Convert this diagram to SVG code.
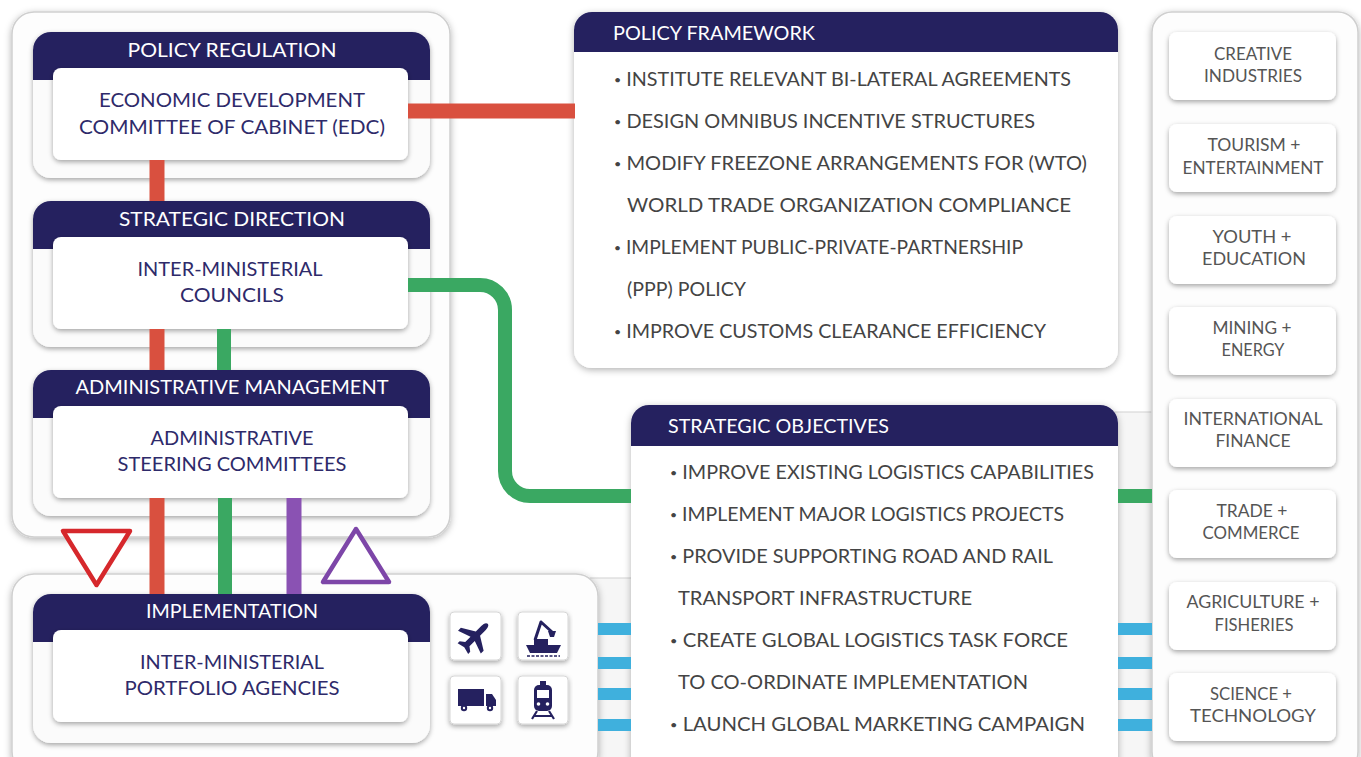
<svg xmlns="http://www.w3.org/2000/svg" width="1361" height="757" viewBox="0 0 1361 757">
<defs>
<filter id="sh" x="-10%" y="-10%" width="120%" height="125%"><feDropShadow dx="0" dy="2" stdDeviation="3.5" flood-color="#000" flood-opacity="0.3"/></filter>
<filter id="sh2" x="-10%" y="-15%" width="120%" height="140%"><feDropShadow dx="0" dy="2" stdDeviation="2.5" flood-color="#000" flood-opacity="0.35"/></filter>
</defs>
<style>
.panel{fill:#fdfdfd;stroke:#cfcfcf;stroke-width:1.5;filter:url(#sh)}
.card{fill:#fbfbfb;filter:url(#sh2)}
.hdr{fill:#25215f}
.inner{fill:#fff;filter:url(#sh2)}
.tube{fill:#f6f6f6;stroke:#d2d2d2;stroke-width:1}
.ht{font-family:Lato,"Liberation Sans",sans-serif;font-size:19px;fill:#fff;text-anchor:middle}
.hl{font-family:Lato,"Liberation Sans",sans-serif;font-size:19px;fill:#fff}
.bt{font-family:Lato,"Liberation Sans",sans-serif;font-size:19px;fill:#2e2a6a;text-anchor:middle}
.lt{font-family:Lato,"Liberation Sans",sans-serif;font-size:19px;fill:#444}
.bul{font-size:12px}
.sec{fill:#fff;filter:url(#sh2)}
.st{font-family:Lato,"Liberation Sans",sans-serif;font-size:17px;fill:#555;text-anchor:middle}
.ibox{fill:#fff;stroke:#d6d6d6;stroke-width:1;filter:url(#sh2)}
.ico{fill:#25215f}
.red{stroke:#d9503f;stroke-width:15;fill:none}
.grn{stroke:#3aa862;stroke-width:14;fill:none}
.pur{stroke:#8a52b3;stroke-width:15;fill:none}
.blu{stroke:#3fb0dd;stroke-width:12;fill:none}
</style>
<rect x="0" y="0" width="1361" height="757" fill="#ffffff"/>

<g id="tubes">
<rect class="tube" x="590" y="578" width="50" height="200"/>
<rect class="tube" x="1110" y="412" width="50" height="360"/>
</g>

<g id="panels">
<rect class="panel" x="12" y="12" width="438" height="525" rx="22"/>
<rect class="panel" x="12" y="574" width="586" height="200" rx="22"/>
<rect class="panel" x="1152" y="12" width="206" height="760" rx="20"/>
</g>

<g id="policy-framework">
<rect x="574" y="12" width="544" height="356" rx="18" fill="#fff" filter="url(#sh)"/>
<path class="hdr" d="M574 52 V30 A18 18 0 0 1 592 12 H1100 A18 18 0 0 1 1118 30 V52 Z"/>
<text class="hl" x="613" y="40" textLength="202" lengthAdjust="spacingAndGlyphs">POLICY FRAMEWORK</text>
<text class="lt" x="614" y="86" textLength="457" lengthAdjust="spacingAndGlyphs"><tspan class="bul" dy="-2">•</tspan><tspan dy="2"> INSTITUTE RELEVANT BI-LATERAL AGREEMENTS</tspan></text>
<text class="lt" x="614" y="128" textLength="421" lengthAdjust="spacingAndGlyphs"><tspan class="bul" dy="-2">•</tspan><tspan dy="2"> DESIGN OMNIBUS INCENTIVE STRUCTURES</tspan></text>
<text class="lt" x="614" y="170" textLength="473" lengthAdjust="spacingAndGlyphs"><tspan class="bul" dy="-2">•</tspan><tspan dy="2"> MODIFY FREEZONE ARRANGEMENTS FOR (WTO)</tspan></text>
<text class="lt" x="627" y="212" textLength="444" lengthAdjust="spacingAndGlyphs">WORLD TRADE ORGANIZATION COMPLIANCE</text>
<text class="lt" x="614" y="254" textLength="409" lengthAdjust="spacingAndGlyphs"><tspan class="bul" dy="-2">•</tspan><tspan dy="2"> IMPLEMENT PUBLIC-PRIVATE-PARTNERSHIP</tspan></text>
<text class="lt" x="627" y="296" textLength="119" lengthAdjust="spacingAndGlyphs">(PPP) POLICY</text>
<text class="lt" x="614" y="338" textLength="432" lengthAdjust="spacingAndGlyphs"><tspan class="bul" dy="-2">•</tspan><tspan dy="2"> IMPROVE CUSTOMS CLEARANCE EFFICIENCY</tspan></text>
</g>

<g id="strategic-objectives">
<rect x="631" y="405" width="487" height="372" rx="18" fill="#fff" filter="url(#sh)"/>
<path class="hdr" d="M631 446 V423 A18 18 0 0 1 649 405 H1100 A18 18 0 0 1 1118 423 V446 Z"/>
<text class="hl" x="668" y="433" textLength="221" lengthAdjust="spacingAndGlyphs">STRATEGIC OBJECTIVES</text>
<text class="lt" x="670" y="479" textLength="424" lengthAdjust="spacingAndGlyphs"><tspan class="bul" dy="-2">•</tspan><tspan dy="2"> IMPROVE EXISTING LOGISTICS CAPABILITIES</tspan></text>
<text class="lt" x="670" y="521" textLength="394" lengthAdjust="spacingAndGlyphs"><tspan class="bul" dy="-2">•</tspan><tspan dy="2"> IMPLEMENT MAJOR LOGISTICS PROJECTS</tspan></text>
<text class="lt" x="670" y="563" textLength="383" lengthAdjust="spacingAndGlyphs"><tspan class="bul" dy="-2">•</tspan><tspan dy="2"> PROVIDE SUPPORTING ROAD AND RAIL</tspan></text>
<text class="lt" x="678" y="605" textLength="294" lengthAdjust="spacingAndGlyphs">TRANSPORT INFRASTRUCTURE</text>
<text class="lt" x="670" y="647" textLength="398" lengthAdjust="spacingAndGlyphs"><tspan class="bul" dy="-2">•</tspan><tspan dy="2"> CREATE GLOBAL LOGISTICS TASK FORCE</tspan></text>
<text class="lt" x="678" y="689" textLength="350" lengthAdjust="spacingAndGlyphs">TO CO-ORDINATE IMPLEMENTATION</text>
<text class="lt" x="670" y="731" textLength="415" lengthAdjust="spacingAndGlyphs"><tspan class="bul" dy="-2">•</tspan><tspan dy="2"> LAUNCH GLOBAL MARKETING CAMPAIGN</tspan></text>
</g>

<g id="policy-regulation">
<rect class="card" x="33" y="32" width="397" height="146" rx="18"/>
<path class="hdr" d="M33 80 V50 A18 18 0 0 1 51 32 H412 A18 18 0 0 1 430 50 V80 Z"/>
<text class="ht" x="232" y="57" textLength="209" lengthAdjust="spacingAndGlyphs">POLICY REGULATION</text>
<rect class="inner" x="53" y="68" width="355" height="92" rx="8"/>
<text class="bt" x="232" y="107" textLength="266" lengthAdjust="spacingAndGlyphs">ECONOMIC DEVELOPMENT</text>
<text class="bt" x="232" y="134" textLength="306" lengthAdjust="spacingAndGlyphs">COMMITTEE OF CABINET (EDC)</text>
</g>

<g id="strategic-direction">
<rect class="card" x="33" y="201" width="397" height="146" rx="18"/>
<path class="hdr" d="M33 249 V219 A18 18 0 0 1 51 201 H412 A18 18 0 0 1 430 219 V249 Z"/>
<text class="ht" x="232" y="226" textLength="226" lengthAdjust="spacingAndGlyphs">STRATEGIC DIRECTION</text>
<rect class="inner" x="53" y="237" width="355" height="92" rx="8"/>
<text class="bt" x="230" y="276" textLength="185" lengthAdjust="spacingAndGlyphs">INTER-MINISTERIAL</text>
<text class="bt" x="232" y="302" textLength="104" lengthAdjust="spacingAndGlyphs">COUNCILS</text>
</g>

<g id="administrative-management">
<rect class="card" x="33" y="370" width="397" height="146" rx="18"/>
<path class="hdr" d="M33 418 V388 A18 18 0 0 1 51 370 H412 A18 18 0 0 1 430 388 V418 Z"/>
<text class="ht" x="232" y="394" textLength="313" lengthAdjust="spacingAndGlyphs">ADMINISTRATIVE MANAGEMENT</text>
<rect class="inner" x="53" y="406" width="355" height="92" rx="8"/>
<text class="bt" x="232" y="445" textLength="163" lengthAdjust="spacingAndGlyphs">ADMINISTRATIVE</text>
<text class="bt" x="232" y="471" textLength="229" lengthAdjust="spacingAndGlyphs">STEERING COMMITTEES</text>
</g>

<g id="implementation">
<rect class="card" x="33" y="594" width="397" height="149" rx="18"/>
<path class="hdr" d="M33 642 V612 A18 18 0 0 1 51 594 H412 A18 18 0 0 1 430 612 V642 Z"/>
<text class="ht" x="232" y="618" textLength="172" lengthAdjust="spacingAndGlyphs">IMPLEMENTATION</text>
<rect class="inner" x="53" y="630" width="355" height="92" rx="8"/>
<text class="bt" x="232" y="669" textLength="184" lengthAdjust="spacingAndGlyphs">INTER-MINISTERIAL</text>
<text class="bt" x="232" y="695" textLength="215" lengthAdjust="spacingAndGlyphs">PORTFOLIO AGENCIES</text>
</g>

<g id="transport-icons">
<rect class="ibox" x="450" y="612" width="51" height="48" rx="4"/>
<path class="ico" transform="translate(475.5 636) rotate(45) scale(1.15)" d="M0 -15 C2 -15 2.6 -12 2.6 -10 L2.6 -3 L14 4 L14 7.5 L2.6 3.5 L2.6 10 L6.5 13 L6.5 15.5 L0 13.8 L-6.5 15.5 L-6.5 13 L-2.6 10 L-2.6 3.5 L-14 7.5 L-14 4 L-2.6 -3 L-2.6 -10 C-2.6 -12 -2 -15 0 -15 Z"/>
<rect class="ibox" x="518" y="612" width="50" height="48" rx="4"/>
<g class="ico">
<path d="M526 645 H561 L557 653 H530 Z"/>
<rect x="534" y="639" width="14" height="6"/>
<path d="M535 640 L541 622 L552 632" fill="none" stroke="#25215f" stroke-width="3" stroke-linejoin="round"/>
<path d="M548 631 H556 L554 637 H550 Z"/>
<path d="M527 656 H560" stroke="#25215f" stroke-width="1.5" stroke-dasharray="3 1.5"/>
</g>
<rect class="ibox" x="450" y="676" width="51" height="48" rx="4"/>
<g class="ico">
<rect x="458" y="689" width="26" height="17"/>
<path d="M486 694 H492 L496 700 V706 H486 Z"/>
<circle cx="464" cy="708" r="3.2"/>
<circle cx="490" cy="708" r="3.2"/>
<circle cx="464" cy="708" r="1.2" fill="#fff"/>
<circle cx="490" cy="708" r="1.2" fill="#fff"/>
</g>
<rect class="ibox" x="518" y="676" width="50" height="48" rx="4"/>
<g class="ico">
<rect x="540" y="681" width="6" height="4"/>
<rect x="534" y="685" width="18" height="26" rx="5"/>
<rect x="537" y="690" width="12" height="8" fill="#fff"/>
<circle cx="538.5" cy="704" r="1.8" fill="#fff"/>
<circle cx="547.5" cy="704" r="1.8" fill="#fff"/>
<path d="M537 711 L532 719 M549 711 L554 719 M534 716 H552" stroke="#25215f" stroke-width="2.2" fill="none"/>
</g>
</g>

<g id="sectors">
<rect class="sec" x="1169" y="32" width="167" height="68" rx="8"/>
<text class="st" x="1253" y="60" textLength="78" lengthAdjust="spacingAndGlyphs">CREATIVE</text>
<text class="st" x="1253" y="82" textLength="98" lengthAdjust="spacingAndGlyphs">INDUSTRIES</text>
<rect class="sec" x="1169" y="124" width="167" height="68" rx="8"/>
<text class="st" x="1254" y="151" textLength="93" lengthAdjust="spacingAndGlyphs">TOURISM +</text>
<text class="st" x="1253" y="174" textLength="141" lengthAdjust="spacingAndGlyphs">ENTERTAINMENT</text>
<rect class="sec" x="1169" y="216" width="167" height="68" rx="8"/>
<text class="st" x="1252" y="243" textLength="79" lengthAdjust="spacingAndGlyphs">YOUTH +</text>
<text class="st" x="1254" y="265" textLength="104" lengthAdjust="spacingAndGlyphs">EDUCATION</text>
<rect class="sec" x="1169" y="307" width="167" height="68" rx="8"/>
<text class="st" x="1252" y="334" textLength="79" lengthAdjust="spacingAndGlyphs">MINING +</text>
<text class="st" x="1253" y="356" textLength="63" lengthAdjust="spacingAndGlyphs">ENERGY</text>
<rect class="sec" x="1169" y="399" width="167" height="68" rx="8"/>
<text class="st" x="1253" y="425" textLength="139" lengthAdjust="spacingAndGlyphs">INTERNATIONAL</text>
<text class="st" x="1253" y="447" textLength="75" lengthAdjust="spacingAndGlyphs">FINANCE</text>
<rect class="sec" x="1169" y="490" width="167" height="68" rx="8"/>
<text class="st" x="1252" y="517" textLength="71" lengthAdjust="spacingAndGlyphs">TRADE +</text>
<text class="st" x="1251" y="539" textLength="97" lengthAdjust="spacingAndGlyphs">COMMERCE</text>
<rect class="sec" x="1169" y="582" width="167" height="68" rx="8"/>
<text class="st" x="1253" y="608" textLength="133" lengthAdjust="spacingAndGlyphs">AGRICULTURE +</text>
<text class="st" x="1254" y="631" textLength="79" lengthAdjust="spacingAndGlyphs">FISHERIES</text>
<rect class="sec" x="1169" y="673" width="167" height="68" rx="8"/>
<text class="st" x="1251" y="700" textLength="82" lengthAdjust="spacingAndGlyphs">SCIENCE +</text>
<text class="st" x="1253" y="722" textLength="126" lengthAdjust="spacingAndGlyphs">TECHNOLOGY</text>
</g>

<g id="connectors">
<path class="red" d="M408 111 H575"/>
<path class="red" d="M157 160 V201"/>
<path class="red" d="M157 329 V370"/>
<path class="grn" d="M224 329 V370"/>
<path class="red" d="M157 498 V594"/>
<path class="grn" d="M225 498 V594"/>
<path class="pur" d="M294 498 V594"/>
<path class="grn" d="M408 285 H480 A25 25 0 0 1 505 310 V471 A25 25 0 0 0 530 496 H631"/>
<path class="grn" d="M1118 496 H1152"/>
<path class="blu" d="M598 629 H631 M598 663 H631 M598 694 H631 M598 725 H631"/>
<path class="blu" d="M1118 629 H1152 M1118 663 H1152 M1118 694 H1152 M1118 725 H1152"/>
<polygon points="63,531 130,531 96.5,585" fill="#fff" stroke="#d6282c" stroke-width="4.5" stroke-linejoin="round"/>
<polygon points="323,582 389,582 356,529" fill="#fff" stroke="#7d46a8" stroke-width="4.5" stroke-linejoin="round"/>
</g>
</svg>
